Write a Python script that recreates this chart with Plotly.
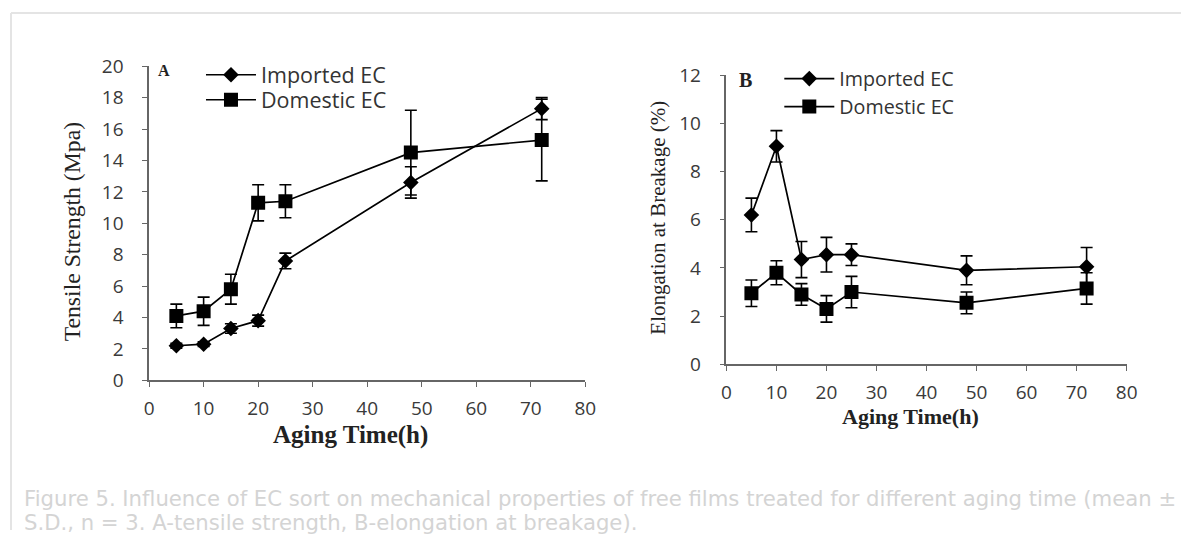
import plotly.graph_objects as go

W, H = 1192, 543

# ---- data ----
aging_time = [5, 10, 15, 20, 25, 48, 72]

ts_imported = [2.2, 2.3, 3.3, 3.8, 7.6, 12.6, 17.3]
ts_imported_sd = [0.15, 0.15, 0.3, 0.35, 0.5, 1.0, 0.7]
ts_domestic = [4.1, 4.4, 5.8, 11.3, 11.4, 14.5, 15.3]
ts_domestic_sd = [0.75, 0.9, 0.95, 1.15, 1.05, 2.7, 2.6]

el_imported = [6.2, 9.05, 4.35, 4.55, 4.55, 3.9, 4.05]
el_imported_sd = [0.7, 0.65, 0.75, 0.72, 0.45, 0.6, 0.8]
el_domestic = [2.95, 3.8, 2.9, 2.3, 3.0, 2.55, 3.15]
el_domestic_sd = [0.55, 0.5, 0.45, 0.55, 0.65, 0.45, 0.65]

series_names = ["Imported EC", "Domestic EC"]
x_ticks = [0, 10, 20, 30, 40, 50, 60, 70, 80]
ts_ticks = [0, 2, 4, 6, 8, 10, 12, 14, 16, 18, 20]
el_ticks = [0, 2, 4, 6, 8, 10, 12]

caption_lines = [
    "Figure 5. Influence of EC sort on mechanical properties of free films treated for different aging time (mean ±",
    "S.D., n = 3. A-tensile strength, B-elongation at breakage).",
]

# the page is photographed slightly reduced; map target pixel positions to figure paper coords
SX, OX = 0.988, 6.0
SY, OY = 0.9714, 7.8


def px(x):
    x = x + 1 + 0.002 * x          # empirical fine correction
    return min(1.0, max(0.0, ((x - OX) / SX) / W))


def py(y):
    y = 1.0205 * y - 5.25           # empirical fine correction
    return min(1.0, max(0.0, 1 - ((y - OY) / SY) / H))


fig = go.Figure()


def add_series(x, y, sd, name, symbol, size, xa, ya, legend):
    fig.add_trace(go.Scatter(
        x=x, y=y, name=name, mode="lines+markers",
        line=dict(color="black", width=1.7),
        marker=dict(symbol=symbol, size=size, color="black"),
        error_y=dict(type="data", array=sd, visible=True, color="black", thickness=1.6, width=6),
        xaxis=xa, yaxis=ya, legend=legend,
    ))


add_series(aging_time, ts_imported, ts_imported_sd, series_names[0], "diamond", 12, "x", "y", "legend")
add_series(aging_time, ts_domestic, ts_domestic_sd, series_names[1], "square", 14, "x", "y", "legend2")
add_series(aging_time, el_imported, el_imported_sd, series_names[0], "diamond", 12, "x2", "y2", "legend3")
add_series(aging_time, el_domestic, el_domestic_sd, series_names[1], "square", 14, "x2", "y2", "legend4")

sans = "Open Sans, Noto Sans, sans-serif"
tickfont = dict(family=sans, size=19, color="#3a3a3a")
axcommon = dict(showline=True, linecolor="#666666", linewidth=1.5, ticks="outside", ticklen=5,
                tickcolor="#666666", tickwidth=1.2, showgrid=False, zeroline=False, tickfont=tickfont)

ITEMW = 50
ROW_OFF = 22  # distance from legend top to row centre (figure px)


def legend_at(text_x, row_y, size):
    return dict(
        x=px(text_x) - (ITEMW + 12) / W,
        y=py(row_y) + ROW_OFF / H,
        xanchor="left", yanchor="top", bgcolor="rgba(0,0,0,0)",
        itemwidth=ITEMW,
        font=dict(family=sans, size=size, color="#333333"),
    )


fig.update_layout(
    width=W, height=H, margin=dict(l=0, r=0, t=0, b=0),
    paper_bgcolor="white", plot_bgcolor="white",
    xaxis=dict(domain=[px(149), px(585)], range=[0, 80], tickvals=x_ticks, anchor="y",
               ticklabelstandoff=5, **axcommon),
    yaxis=dict(domain=[py(380), py(66)], range=[0, 20], tickvals=ts_ticks, anchor="x",
               ticklabelstandoff=15, **axcommon),
    xaxis2=dict(domain=[px(726), px(1126)], range=[0, 80], tickvals=x_ticks, anchor="y2",
                ticklabelstandoff=5, **axcommon),
    yaxis2=dict(domain=[py(364), py(75)], range=[0, 12], tickvals=el_ticks, anchor="x2",
                ticklabelstandoff=15, **axcommon),
    legend=legend_at(262, 75, 21.5),
    legend2=legend_at(262, 100, 21.5),
    legend3=legend_at(840, 80, 19.7),
    legend4=legend_at(840, 108, 19.7),
    showlegend=True,
)

serif = "Liberation Serif, Times New Roman, serif"
annotations = [
    dict(text="Tensile Strength (Mpa)", x=px(72), y=py(232), textangle=-90,
         font=dict(family=serif, size=23.7, color="#222222")),
    dict(text="Elongation at Breakage (%)", x=px(658), y=py(217), textangle=-90,
         font=dict(family=serif, size=21, color="#222222")),
    dict(text="<b>Aging Time(h)</b>", x=px(350), y=py(435),
         font=dict(family=serif, size=25, color="#222222")),
    dict(text="<b>Aging Time(h)</b>", x=px(910), y=py(416),
         font=dict(family=serif, size=22, color="#222222")),
    dict(text="<b>A</b>", x=px(164), y=py(70), font=dict(family=serif, size=16, color="#222222")),
    dict(text="<b>B</b>", x=px(745), y=py(80), font=dict(family=serif, size=20, color="#222222")),
    dict(text=caption_lines[0], x=px(22), y=py(498), xanchor="left", yanchor="middle", align="left",
         font=dict(family="DejaVu Sans, sans-serif", size=21.2, color="#d4d4d4")),
    dict(text=caption_lines[1], x=px(22), y=py(522), xanchor="left", yanchor="middle", align="left",
         font=dict(family="DejaVu Sans, sans-serif", size=21.2, color="#d4d4d4")),
]
for a in annotations:
    a.update(xref="paper", yref="paper", showarrow=False)
    if "xanchor" not in a:
        a.update(xanchor="center", yanchor="middle")
fig.update_layout(annotations=annotations)

# light frame: top and left edges only, kept inside the page
frame = dict(color="#e4e4e4", width=2)
fig.add_shape(type="line", xref="paper", yref="paper", x0=px(11), x1=1, y0=py(12), y1=py(12), line=frame)
fig.add_shape(type="line", xref="paper", yref="paper", x0=px(11), x1=px(11), y0=0, y1=py(12), line=frame)

fig.write_html("out.html")
